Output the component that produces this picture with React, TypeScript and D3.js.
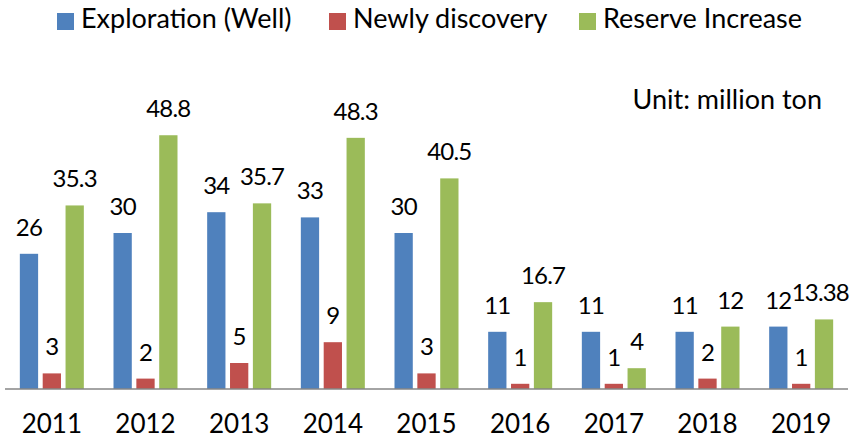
import { useEffect, useRef } from "react";
import * as d3 from "d3";

const YEARS = ["2011", "2012", "2013", "2014", "2015", "2016", "2017", "2018", "2019"];
const EXPLORATION = [26, 30, 34, 33, 30, 11, 11, 11, 12];
const DISCOVERY = [3, 2, 5, 9, 3, 1, 1, 2, 1];
const RESERVE = [35.3, 48.8, 35.7, 48.3, 40.5, 16.7, 4, 12, 13.38];
const SERIES = [
  { name: "Exploration (Well)", values: EXPLORATION, color: "#4F81BD" },
  { name: "Newly discovery", values: DISCOVERY, color: "#C0504D" },
  { name: "Reserve Increase", values: RESERVE, color: "#9BBB59" },
];

const W = 852;
const H = 440;
const FONT = "Lato, 'Open Sans', sans-serif";

export default function App() {
  const ref = useRef<SVGSVGElement | null>(null);

  useEffect(() => {
    const svg = d3.select(ref.current);
    svg.selectAll("*").remove();

    const x = d3.scaleBand<string>().domain(YEARS).range([5, 848]);
    const inner = d3
      .scaleBand<string>()
      .domain(SERIES.map((s) => s.name))
      .range([-32, 32])
      .paddingInner(0.2);
    const y = d3.scaleLinear().domain([0, 50]).range([389, 129]);

    // bars + value labels
    SERIES.forEach((s) => {
      const g = svg.append("g");
      YEARS.forEach((yr, i) => {
        const cx = (x(yr) ?? 0) + x.bandwidth() / 2;
        const bx = cx + (inner(s.name) ?? 0);
        const v = s.values[i];
        g.append("rect")
          .attr("x", bx)
          .attr("y", y(v))
          .attr("width", inner.bandwidth())
          .attr("height", y(0) - y(v))
          .attr("fill", s.color);
        const t = g
          .append("text")
          .attr("x", bx + inner.bandwidth() / 2)
          .attr("y", y(v) - 18)
          .attr("text-anchor", "middle")
          .attr("font-family", FONT)
          .attr("font-size", 24)
          .attr("letter-spacing", -0.8)
          .attr("fill", "#000")
          .text(String(v));
        // keep labels inside the right edge
        const len = (t.node() as SVGTextElement).getComputedTextLength();
        const lx = bx + inner.bandwidth() / 2;
        if (lx + len / 2 > W - 3) t.attr("x", W - 3 - len / 2);
      });
    });

    // axis line
    svg
      .append("line")
      .attr("x1", 5)
      .attr("x2", 848)
      .attr("y1", y(0))
      .attr("y2", y(0))
      .attr("stroke", "#868686")
      .attr("stroke-width", 1.5);

    // year labels
    YEARS.forEach((yr) => {
      svg
        .append("text")
        .attr("x", (x(yr) ?? 0) + x.bandwidth() / 2)
        .attr("y", 433)
        .attr("text-anchor", "middle")
        .attr("font-family", FONT)
        .attr("font-size", 26)
        .attr("fill", "#000")
        .text(yr);
    });

    // legend
    const legendX = [57, 329, 579];
    SERIES.forEach((s, i) => {
      svg
        .append("rect")
        .attr("x", legendX[i])
        .attr("y", 13)
        .attr("width", 17)
        .attr("height", 17)
        .attr("fill", s.color);
      svg
        .append("text")
        .attr("x", legendX[i] + 24)
        .attr("y", 28)
        .attr("font-family", FONT)
        .attr("font-size", 27)
        .attr("fill", "#000")
        .text(s.name);
    });

    svg
      .append("text")
      .attr("x", 822)
      .attr("y", 109)
      .attr("text-anchor", "end")
      .attr("font-family", FONT)
      .attr("font-size", 27)
      .attr("fill", "#000")
      .text("Unit: million ton");
  }, []);

  return (
    <svg
      ref={ref}
      width={W}
      height={H}
      style={{ position: "absolute", left: 0, top: 0, background: "#fff" }}
    />
  );
}
